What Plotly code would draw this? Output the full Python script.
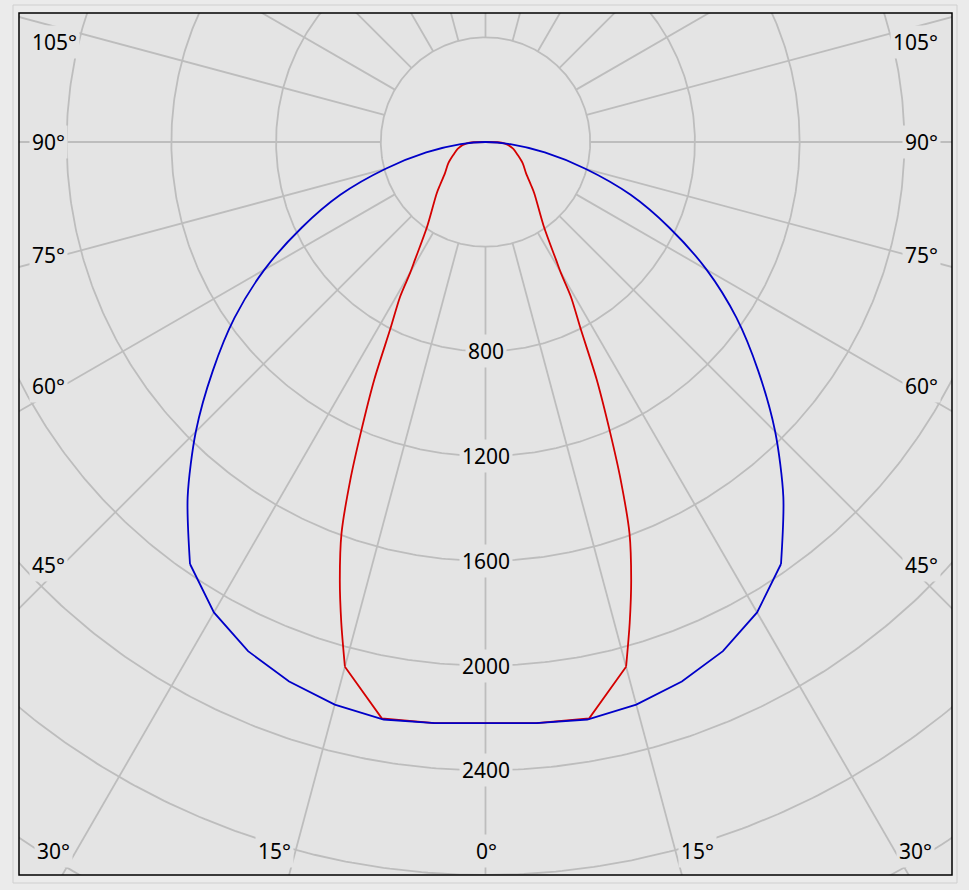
import numpy as np
import plotly.graph_objects as go

# ---- data (gamma angle in degrees, intensity in cd) ----
blue_angles = [0, 5, 10, 15, 20, 25, 30, 35, 40, 45, 50, 55, 60, 65, 70, 75, 80, 85, 90]
blue_values = [2220, 2228, 2240, 2225, 2193, 2146, 2075, 1968, 1770, 1565, 1360, 1170,
               975, 775, 590, 395, 230, 95, 0]

red_angles = [0, 5, 10.2, 15, 16.7, 18.4, 20.2, 21.8, 23.2, 25.1, 27.0, 28.9, 29.9,
              30.9, 34.6, 43.6, 46.6, 52.3, 60.2, 68, 77, 86, 90]
red_values = [2220, 2228, 2237, 2075, 1917, 1763, 1593, 1391, 1210, 1000, 800, 675, 579,
              525, 393, 270, 239, 196, 164, 133, 107, 72, 0]

ring_values = [400, 800, 1200, 1600, 2000, 2400, 2800, 3200]
ring_labels = ["800", "1200", "1600", "2000", "2400"]
spoke_angles = list(range(0, 360, 15))
angle_labels_left = ["105°", "90°", "75°", "60°", "45°"]
angle_labels_bottom = ["30°", "15°", "0°", "15°", "30°"]
angle_labels_right = ["105°", "90°", "75°", "60°", "45°"]

# ---- layout geometry (pixels) ----
W, H = 969, 890
ML, MR, MT, MB = 19, 17, 13, 15
PW, PH = W - ML - MR, H - MT - MB
CX, CY = 485.5, 142.0            # pole position in pixels
SCALE = 733.0 / 2800.0           # px per cd

x_range = [-(CX - ML) / SCALE, (W - MR - CX) / SCALE]
y_range = [-(H - MB - CY) / SCALE, (CY - MT) / SCALE]

PLOT_BG = "#e4e4e4"
PAPER_BG = "#ebebeb"
GRID = "#bdbdbd"
FONT = "Noto Sans"
BLUE = "#0000c8"
RED = "#d40000"


def to_xy(angles_deg, r):
    a = np.radians(np.asarray(angles_deg, dtype=float))
    r = np.asarray(r, dtype=float)
    return r * np.sin(a), -r * np.cos(a)


def split_curve(angles, values, knee):
    """Lower part (|angle| <= knee, straight segments) through 0 deg,
    upper part (|angle| >= knee, smooth) through the pole."""
    lo = [(a, v) for a, v in zip(angles, values) if a <= knee]
    hi = [(a, v) for a, v in zip(angles, values) if a >= knee]
    lo_a = [-a for a, _ in reversed(lo)] + [a for a, _ in lo[1:]]
    lo_v = [v for _, v in reversed(lo)] + [v for _, v in lo[1:]]
    hi_a = [-a for a, _ in hi] + [a for a, _ in reversed(hi[:-1])]
    hi_v = [v for _, v in hi] + [v for _, v in reversed(hi[:-1])]
    return (lo_a, lo_v), (hi_a, hi_v)


fig = go.Figure()

# grid rings
t = np.linspace(0, 360, 721)
for rv in ring_values:
    gx, gy = to_xy(t, np.full_like(t, rv))
    fig.add_trace(go.Scatter(x=gx, y=gy, mode="lines", line=dict(color=GRID, width=1.8),
                             hoverinfo="skip", showlegend=False))
# grid spokes (start at the innermost ring)
for sa in spoke_angles:
    gx, gy = to_xy([sa, sa], [ring_values[0], 4000])
    fig.add_trace(go.Scatter(x=gx, y=gy, mode="lines", line=dict(color=GRID, width=1.8),
                             hoverinfo="skip", showlegend=False))

# curves
for angles, values, knee, color, name in [
        (red_angles, red_values, 15, RED, "C0-C180"),
        (blue_angles, blue_values, 35, BLUE, "C90-C270")]:
    (la, lv), (ha, hv) = split_curve(angles, values, knee)
    x, y = to_xy(la, lv)
    fig.add_trace(go.Scatter(x=x, y=y, mode="lines", line=dict(color=color, width=1.8),
                             name=name, showlegend=False))
    x, y = to_xy(ha, hv)
    fig.add_trace(go.Scatter(x=x, y=y, mode="lines",
                             line=dict(color=color, width=1.8, shape="spline", smoothing=0.8),
                             name=name, showlegend=False))

annotations = []
# ring labels on the 0° spoke
for lab in ring_labels:
    annotations.append(dict(x=0, y=-float(lab), xref="x", yref="y", text=lab,
                            showarrow=False, bgcolor=PLOT_BG, borderpad=2,
                            font=dict(family=FONT, size=21, color="black"),
                            xanchor="center", yanchor="middle"))


def px2paper(px, py):
    return (px - ML) / PW, 1 - (py - MT) / PH


side_y = [42, 142, 255, 386, 565]
for lab, py in zip(angle_labels_left, side_y):
    xp, yp = px2paper(29, py)
    annotations.append(dict(x=xp, y=yp, xref="paper", yref="paper", text=lab,
                            showarrow=False, bgcolor=PLOT_BG, borderpad=2,
                            font=dict(family=FONT, size=21, color="black"),
                            xanchor="left", yanchor="middle"))
for lab, py in zip(angle_labels_right, side_y):
    xp, yp = px2paper(941, py)
    annotations.append(dict(x=xp, y=yp, xref="paper", yref="paper", text=lab,
                            showarrow=False, bgcolor=PLOT_BG, borderpad=2,
                            font=dict(family=FONT, size=21, color="black"),
                            xanchor="right", yanchor="middle"))
bottom_pos = [(34, "left"), (294, "right"), (486, "center"), (678, "left"), (935, "right")]
for lab, (px, anc) in zip(angle_labels_bottom, bottom_pos):
    xp, yp = px2paper(px, 851)
    annotations.append(dict(x=xp, y=yp, xref="paper", yref="paper", text=lab,
                            showarrow=False, bgcolor=PLOT_BG, borderpad=2,
                            font=dict(family=FONT, size=21, color="black"),
                            xanchor=anc, yanchor="middle"))

shapes = [
    dict(type="rect", xref="paper", yref="paper", x0=0, x1=1, y0=0, y1=1,
         line=dict(color="black", width=1.5), layer="above"),
    dict(type="rect", xref="paper", yref="paper",
         x0=(13 - ML) / PW, x1=(957 - ML) / PW,
         y0=-(883 - (H - MB)) / PH, y1=1 + (MT - 5) / PH,
         line=dict(color="#cfcfcf", width=1), layer="below"),
]

fig.update_layout(
    width=W, height=H,
    margin=dict(l=ML, r=MR, t=MT, b=MB),
    paper_bgcolor=PAPER_BG, plot_bgcolor=PLOT_BG,
    xaxis=dict(range=x_range, visible=False, fixedrange=True),
    yaxis=dict(range=y_range, visible=False, fixedrange=True),
    annotations=annotations, shapes=shapes,
    font=dict(family=FONT),
)

fig.write_html(
    "out.html",
    config={"displayModeBar": False},
    post_script="document.body.style.margin='0';document.body.style.padding='0';"
                "document.body.style.background='" + PAPER_BG + "';",
)
